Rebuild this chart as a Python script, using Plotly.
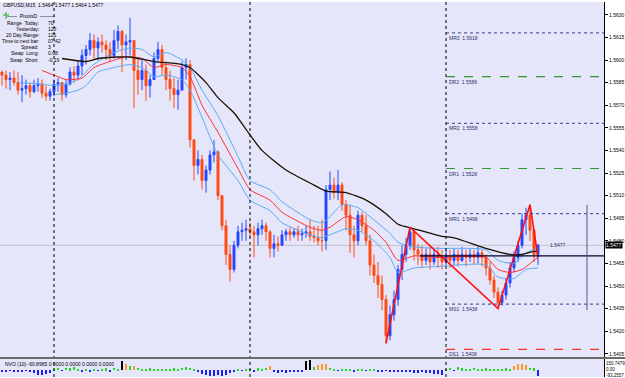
import plotly.graph_objects as go

W, H = 625, 378

# ---------------- data (prices in points: price * 10000) ----------------
first_open = 15592
high_pts = [
    15593, 15593, 15592, 15593, 15592, 15590, 15587, 15585, 15587, 15588,
    15587, 15583, 15581, 15587, 15588, 15585, 15587, 15595, 15596, 15599,
    15607, 15610, 15618, 15617, 15615, 15617, 15613, 15612, 15620, 15623,
    15620, 15617, 15628, 15613, 15601, 15600, 15597, 15590, 15605, 15612,
    15610, 15599, 15593, 15588, 15587, 15599, 15601, 15600, 15547, 15540,
    15537, 15530, 15540, 15547, 15540, 15510, 15494, 15477, 15480, 15490,
    15492, 15494, 15492, 15490, 15492, 15494, 15492, 15487, 15484, 15483,
    15487, 15488, 15489, 15488, 15490, 15488, 15490, 15494, 15490, 15490,
    15494, 15517, 15526, 15522, 15527, 15519, 15507, 15504, 15490, 15500,
    15499, 15497, 15484, 15471, 15466, 15457, 15444, 15437, 15447, 15464,
    15477, 15482, 15489, 15487, 15478, 15477, 15475, 15477, 15474, 15476,
    15474, 15475, 15474, 15475, 15474, 15476, 15474, 15475, 15474, 15476,
    15474, 15471, 15466, 15457, 15449, 15447, 15455, 15466, 15473, 15480,
    15498, 15502, 15504, 15488, 15478]
low_pts = [
    15583, 15581, 15580, 15583, 15577, 15572, 15577, 15575, 15578, 15579,
    15575, 15573, 15573, 15576, 15579, 15573, 15575, 15583, 15585, 15587,
    15590, 15597, 15603, 15601, 15600, 15605, 15600, 15599, 15601, 15607,
    15592, 15600, 15603, 15568, 15577, 15580, 15573, 15575, 15592, 15599,
    15590, 15580, 15573, 15568, 15567, 15583, 15587, 15542, 15520, 15524,
    15514, 15512, 15524, 15532, 15507, 15487, 15464, 15453, 15459, 15475,
    15480, 15480, 15482, 15469, 15477, 15484, 15480, 15469, 15469, 15473,
    15477, 15480, 15480, 15482, 15480, 15480, 15482, 15480, 15479, 15477,
    15473, 15474, 15507, 15508, 15507, 15500, 15487, 15472, 15469, 15477,
    15486, 15477, 15457, 15452, 15442, 15434, 15412, 15414, 15427, 15437,
    15454, 15466, 15474, 15467, 15464, 15462, 15464, 15461, 15464, 15462,
    15461, 15464, 15462, 15464, 15463, 15466, 15463, 15466, 15464, 15465,
    15463, 15457, 15451, 15442, 15435, 15437, 15441, 15449, 15459, 15466,
    15475, 15484, 15480, 15466, 15464]
close_pts = [
    15590, 15587, 15588, 15585, 15580, 15581, 15583, 15579, 15583, 15584,
    15578, 15576, 15579, 15584, 15585, 15577, 15584, 15592, 15590, 15596,
    15603, 15607, 15613, 15608, 15612, 15610, 15607, 15603, 15613, 15619,
    15610, 15612, 15613, 15593, 15587, 15593, 15583, 15587, 15601, 15607,
    15595, 15587, 15581, 15577, 15580, 15595, 15597, 15547, 15530, 15534,
    15520, 15527, 15537, 15539, 15510, 15490, 15471, 15461, 15477, 15486,
    15487, 15488, 15486, 15484, 15488, 15490, 15486, 15475, 15478, 15477,
    15484, 15486, 15484, 15486, 15484, 15485, 15486, 15483, 15482, 15480,
    15480, 15514, 15517, 15512, 15517, 15504, 15497, 15484, 15480, 15497,
    15490, 15480, 15464, 15457, 15451, 15441, 15417, 15431, 15441, 15461,
    15471, 15477, 15486, 15474, 15471, 15467, 15471, 15466, 15471, 15469,
    15466, 15470, 15467, 15471, 15467, 15471, 15469, 15471, 15469, 15472,
    15469, 15462, 15454, 15446, 15439, 15444, 15452, 15462, 15469, 15477,
    15494, 15497, 15487, 15471, 15477]

# moving averages (bar index, points)
ma_black_idx = [15, 21, 24, 29, 32, 38, 45, 47, 51, 54, 58, 61, 65, 71, 78, 81,
                86, 91, 96, 99, 103, 110, 113, 121, 127, 130, 133, 134]
ma_black_pts = [15601, 15599, 15601, 15602, 15602, 15599, 15597, 15595, 15585,
                15575, 15565, 15554, 15540, 15527, 15517, 15513, 15512, 15507,
                15498, 15491, 15488, 15483, 15482, 15475, 15471, 15471, 15473,
                15473]
ma_red_idx = [10, 13, 16, 20, 23, 27, 31, 35, 38, 41, 45, 47, 50, 54, 59, 62, 67,
              70, 77, 80, 82, 86, 89, 93, 96, 99, 103, 109, 121, 124, 127, 130,
              133, 134]
ma_red_pts = [15593, 15590, 15587, 15588, 15595, 15599, 15602, 15601, 15595,
              15597, 15595, 15589, 15570, 15552, 15528, 15514, 15507, 15499,
              15489, 15487, 15489, 15496, 15494, 15487, 15479, 15467, 15470,
              15469, 15469, 15461, 15459, 15461, 15467, 15469]
band_up_idx = [4, 10, 13, 16, 19, 22, 24, 28, 32, 35, 38, 41, 45, 47, 50, 54, 59,
               62, 67, 70, 77, 80, 82, 85, 89, 92, 97, 99, 103, 109, 121, 124,
               128, 131, 134]
band_up_pts = [15585, 15584, 15583, 15584, 15587, 15595, 15599, 15605, 15608,
               15607, 15602, 15605, 15600, 15595, 15580, 15563, 15536, 15520,
               15514, 15506, 15494, 15492, 15496, 15504, 15502, 15496, 15485,
               15479, 15476, 15475, 15474, 15467, 15465, 15472, 15475]
band_dn_idx = [13, 16, 19, 21, 24, 28, 32, 35, 38, 41, 45, 47, 50, 54, 59, 62, 67,
               70, 77, 80, 82, 86, 89, 93, 97, 99, 103, 109, 121, 124, 128, 131,
               134]
band_dn_pts = [15577, 15578, 15580, 15583, 15592, 15595, 15597, 15595, 15589,
               15590, 15587, 15580, 15562, 15537, 15520, 15507, 15500, 15492,
               15484, 15482, 15484, 15488, 15487, 15480, 15469, 15459, 15462,
               15463, 15464, 15456, 15455, 15461, 15462]

zigzag_idx = [96, 102, 124, 132, 134]
zigzag_pts = [15412, 15489, 15435, 15504, 15469]

day_start_bars = [13, 62, 111]

pivot_names = ["MR3", "DR2", "MR2", "DR1", "MR1", "MS1", "DS1"]
pivot_vals = [1.5618, 1.5589, 1.5558, 1.5528, 1.5498, 1.5438, 1.5408]

bid_price = 1.5477
day_open_price = 1.5470
range_high, range_low = 1.5504, 1.5434

price_ticks = [1.5405, 1.5420, 1.5435, 1.5450, 1.5465, 1.5480, 1.5495, 1.5510,
               1.5525, 1.5540, 1.5555, 1.5570, 1.5585, 1.5600, 1.5615, 1.5630]
price_tick_text = ["1.5405", "1.5420", "1.5435", "1.5450", "1.5465", "1.5480",
                   "1.5495", "1.5510", "1.5525", "1.5540", "1.5555", "1.5570",
                   "1.5585", "1.5600", "1.5615", "1.5630"]

nvo_vals = [-15, -20, -10, -25, -15, -20, -10, -20,
            -40, -60, -70, -55, -45,
            20, 35, -10, 30, 25, 40, 20,
            -15, 20, -20, 15, -10, 20, 25, -15, 30, 20,
            130, 85, 55, 60, 35,
            20, 15, 25, 20, 10, 15, 20, 15, 25, 20, 30, 40, 35, 15,
            -30, -50, -60, -75, -80, -70, -80, -60, -45, -30,
            15, -10, 20, 10, -15,
            25, 20, 30, 60,
            -20, -35, -30, -40, -30, -25, -20, -15,
            120, 140, 45, 70, 85, 80, 35,
            15, -10, 20, 15, 10, -15, 20, 15, -10, 10, 15, -20, -15, -10,
            -20, -25, -30, -20, -25, -30, -35, -40, -30, -40, -45, -50, -55, -60,
            20, 30, -10, 45, 25, 15, 20, 35, 10, 20, 25, 15, 20, 15, 20, 25,
            20, 60, 80, 85, 75, 35, 25, -80]
nvo_codes = ("bbbbbbbbbbbbb" "ggbgggg" "bgbgbggbgg" "kogog" "gggggggggggggg"
             "bbbbbbbbbb" "gbggb" "gggo" "bbbbbbbb" "kkgooog" "gbgggbggbggbbb"
             "bbbbbbbbbbbbbb" "ggbggggggggggggg" "gooooggb")
nvo_max, nvo_min = 150.7479, -93.2557

title_text = "GBPUSD,M15  1.5464 1.5477 1.5464 1.5477"
info_labels = ["Range  Today:", "Yesterday:", "20 Day Range:", "Time to next bar:",
               "Spread:", "Swap  Long:", "Swap  Short:"]
info_values = ["70", "120", "121", "07:42", "3", "0.08", "-0.19"]
nvo_title = "NVO (10) -60.8965 0.0000 0.0000 0.0000 0.0000"

# ---------------- build ----------------
n = len(close_pts)
assert len(high_pts) == n and len(low_pts) == n
assert len(nvo_vals) == n and len(nvo_codes) == n
idx = list(range(n))
opens = [first_open] + close_pts[:-1]
hi = [max(h, o, c) / 1e4 for h, o, c in zip(high_pts, opens, close_pts)]
lo = [min(l, o, c) / 1e4 for l, o, c in zip(low_pts, opens, close_pts)]
op = [o / 1e4 for o in opens]
cl = [c / 1e4 for c in close_pts]


def px(x):
    return x / W


def py(y):
    return 1 - y / H


FONT = "Liberation Sans"
XMAX = 150.5
plot_right = 604

fig = go.Figure()

fig.add_trace(go.Candlestick(
    x=idx, open=op, high=hi, low=lo, close=cl,
    increasing=dict(line=dict(color="#2448ff", width=1), fillcolor="#2448ff"),
    decreasing=dict(line=dict(color="#ff4a12", width=1), fillcolor="#ff4a12"),
    whiskerwidth=0, showlegend=False, hoverinfo="skip"))

for ix, pts, col, wd in [
        (band_up_idx, band_up_pts, "#5aaaf5", 1),
        (band_dn_idx, band_dn_pts, "#5aaaf5", 1),
        (ma_red_idx, ma_red_pts, "#ff3030", 1),
        (ma_black_idx, ma_black_pts, "#1c1000", 1.3)]:
    fig.add_trace(go.Scatter(x=ix, y=[p / 1e4 for p in pts], mode="lines",
                             line=dict(color=col, width=wd, shape="spline",
                                       smoothing=0.6),
                             showlegend=False, hoverinfo="skip"))

fig.add_trace(go.Scatter(x=zigzag_idx, y=[p / 1e4 for p in zigzag_pts],
                         mode="lines", line=dict(color="#ff1010", width=1.6),
                         showlegend=False, hoverinfo="skip"))

cmap = {"b": "#2020f0", "g": "#22d822", "o": "#ff9a2a", "k": "#000000"}
fig.add_trace(go.Bar(x=idx, y=nvo_vals, marker_color=[cmap[c] for c in nvo_codes],
                     marker_line_width=0, width=0.55, yaxis="y2",
                     showlegend=False, hoverinfo="skip"))

shapes = []
shapes.append(dict(type="line", xref="x", yref="y", x0=-0.5, x1=XMAX,
                   y0=bid_price, y1=bid_price, line=dict(color="#c4c4cc", width=1),
                   layer="below"))
for d in day_start_bars:
    shapes.append(dict(type="line", xref="x", yref="paper", x0=d, x1=d,
                       y0=py(377), y1=py(2),
                       line=dict(color="#000000", width=1, dash="dot")))
for name, v in zip(pivot_names, pivot_vals):
    if name.startswith("M"):
        ln = dict(color="#3a3a90", width=1, dash="dot")
    elif name.startswith("DR"):
        ln = dict(color="#2f9a2f", width=1.2, dash="dash")
    else:
        ln = dict(color="#ff3030", width=1.2, dash="dash")
    shapes.append(dict(type="line", xref="x", yref="y", x0=day_start_bars[-1],
                       x1=XMAX, y0=v, y1=v, line=ln))
shapes.append(dict(type="line", xref="x", yref="y", x0=104.5, x1=XMAX,
                   y0=day_open_price, y1=day_open_price,
                   line=dict(color="#000030", width=1.3)))
shapes.append(dict(type="line", xref="x", yref="y", x0=146.25, x1=146.25,
                   y0=range_low, y1=range_high,
                   line=dict(color="#555590", width=1)))
shapes.append(dict(type="line", xref="paper", yref="paper", x0=0, x1=1,
                   y0=py(358), y1=py(358), line=dict(color="#6a6a6a", width=2)))
# small green indicator icon (top-left)
shapes.append(dict(type="line", xref="paper", yref="paper", x0=px(3), x1=px(9),
                   y0=py(15), y1=py(15), line=dict(color="#22aa22", width=1)))
shapes.append(dict(type="line", xref="paper", yref="paper", x0=px(6), x1=px(6),
                   y0=py(12), y1=py(19), line=dict(color="#22aa22", width=1)))

ann = []
small = dict(family=FONT, size=5, color="#000000")
ann.append(dict(x=px(1), y=py(5), xref="paper", yref="paper", text=title_text,
                showarrow=False, xanchor="left", yanchor="middle", font=small))
ann.append(dict(x=px(31), y=py(16), xref="paper", yref="paper",
                text="——  PivotsD  ———", showarrow=False, xanchor="center",
                yanchor="middle", font=small))
for k, (lab, val) in enumerate(zip(info_labels, info_values)):
    yy = 23 + k * 6.1
    ann.append(dict(x=px(40), y=py(yy), xref="paper", yref="paper", text=lab,
                    showarrow=False, xanchor="right", yanchor="middle",
                    borderpad=0, font=small))
    ann.append(dict(x=px(47), y=py(yy), xref="paper", yref="paper", text=val,
                    showarrow=False, xanchor="left", yanchor="middle",
                    borderpad=0, font=small))
for name, v in zip(pivot_names, pivot_vals):
    ann.append(dict(x=day_start_bars[-1] + 0.3, y=v, xref="x", yref="y",
                    text=f"{name}  {v:.4f}", showarrow=False, xanchor="left",
                    yanchor="top", font=dict(family=FONT, size=5, color="#30306a")))
ann.append(dict(x=136.5, y=bid_price, xref="x", yref="y", text=f"{bid_price:.4f}",
                showarrow=False, xanchor="left", yanchor="middle",
                font=dict(family=FONT, size=5, color="#30306a")))
ann.append(dict(x=px(plot_right + 1), y=bid_price, xref="paper", yref="y",
                text=f"{bid_price:.4f}", showarrow=False, xanchor="left",
                yanchor="middle", bgcolor="#000000", borderpad=0,
                font=dict(family=FONT, size=5, color="#ffffff")))
ann.append(dict(x=px(3), y=py(364), xref="paper", yref="paper", text=nvo_title,
                showarrow=False, xanchor="left", yanchor="middle", font=small))
for txt, yy in [(f"{nvo_max:.4f}", 363), ("0.00", 369.5), (f"{nvo_min:.4f}", 375)]:
    ann.append(dict(x=px(plot_right + 1), y=py(yy), xref="paper", yref="paper",
                    text=txt, showarrow=False, xanchor="left", yanchor="middle",
                    borderpad=0,
                    font=dict(family=FONT, size=4.5, color="#000000")))

fig.update_layout(
    width=W, height=H, margin=dict(l=0, r=0, t=0, b=0),
    paper_bgcolor="#ffffff", plot_bgcolor="#e6e6fa",
    showlegend=False, bargap=0,
    xaxis=dict(domain=[0, px(plot_right)], range=[-0.5, XMAX],
               showticklabels=False, showgrid=False, zeroline=False,
               showline=False, ticks="", rangeslider=dict(visible=False),
               fixedrange=True),
    yaxis=dict(domain=[py(357), py(2)], range=[1.54029, 1.56385], side="right",
               tickvals=price_ticks, ticktext=price_tick_text, ticks="outside",
               ticklen=3, tickcolor="#000000", tickwidth=1,
               tickfont=dict(family=FONT, size=5, color="#000000"),
               showgrid=False, zeroline=False, showline=True,
               linecolor="#000000", linewidth=1, fixedrange=True),
    yaxis2=dict(domain=[py(377), py(359)], range=[nvo_min, nvo_max],
                side="right", anchor="x", showticklabels=False, ticks="",
                showgrid=False, zeroline=False, showline=True,
                linecolor="#000000", linewidth=1, fixedrange=True),
    shapes=shapes, annotations=ann,
)

fig.write_html("out.html")
